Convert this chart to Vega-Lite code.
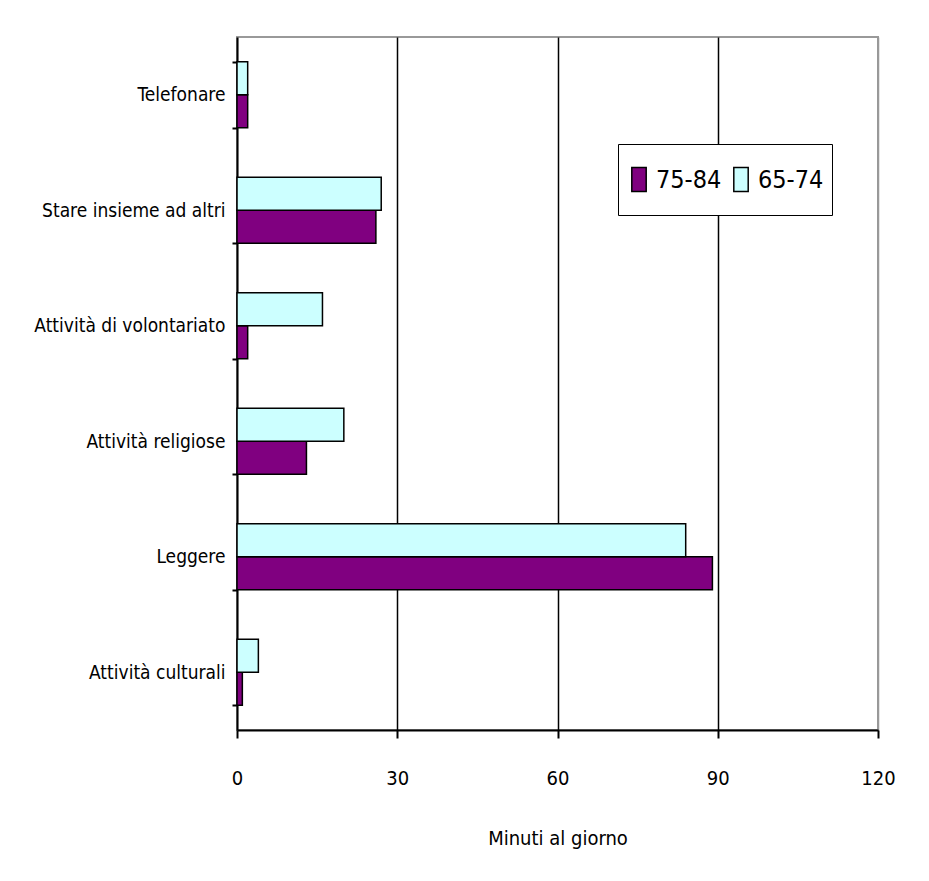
{
  "$schema": "https://vega.github.io/schema/vega-lite/v6.json",
  "width": 641,
  "height": 693,
  "autosize": {"type": "none"},
  "padding": {"left": 237, "top": 37, "right": 51, "bottom": 151},
  "background": "white",
  "config": {
    "font": "DejaVu Sans Condensed, sans-serif",
    "view": {"stroke": "#999999", "strokeWidth": 2}
  },
  "data": {
    "values": [
      {"attivita": "Telefonare", "eta": "75-84", "minuti": 2},
      {"attivita": "Telefonare", "eta": "65-74", "minuti": 2},
      {"attivita": "Stare insieme ad altri", "eta": "75-84", "minuti": 26},
      {"attivita": "Stare insieme ad altri", "eta": "65-74", "minuti": 27},
      {"attivita": "Attività di volontariato", "eta": "75-84", "minuti": 2},
      {"attivita": "Attività di volontariato", "eta": "65-74", "minuti": 16},
      {"attivita": "Attività religiose", "eta": "75-84", "minuti": 13},
      {"attivita": "Attività religiose", "eta": "65-74", "minuti": 20},
      {"attivita": "Leggere", "eta": "75-84", "minuti": 89},
      {"attivita": "Leggere", "eta": "65-74", "minuti": 84},
      {"attivita": "Attività culturali", "eta": "75-84", "minuti": 1},
      {"attivita": "Attività culturali", "eta": "65-74", "minuti": 4}
    ]
  },
  "mark": {"type": "bar", "stroke": "black", "strokeWidth": 1.5},
  "encoding": {
    "y": {
      "field": "attivita",
      "type": "nominal",
      "sort": ["Telefonare", "Stare insieme ad altri", "Attività di volontariato", "Attività religiose", "Leggere", "Attività culturali"],
      "scale": {"paddingInner": 0.43, "paddingOuter": 0.215},
      "axis": {
        "title": null,
        "domainColor": "black",
        "domainWidth": 2,
        "tickBand": "extent",
        "tickColor": "black",
        "tickWidth": 2,
        "tickSize": 5,
        "labelFontSize": 19,
        "labelColor": "black",
        "labelPadding": 7,
        "labelLimit": 300,
        "grid": false
      }
    },
    "yOffset": {
      "field": "eta",
      "type": "nominal",
      "sort": ["65-74", "75-84"],
      "scale": {"paddingInner": 0}
    },
    "x": {
      "field": "minuti",
      "type": "quantitative",
      "scale": {"domain": [0, 120], "nice": false},
      "axis": {
        "title": "Minuti al giorno",
        "titleFontSize": 20,
        "titleFontWeight": "normal",
        "titleColor": "black",
        "titlePadding": 40,
        "values": [0, 30, 60, 90, 120],
        "grid": true,
        "gridColor": {"condition": {"test": "datum.value === 120 || datum.value === 0", "value": "#999999"}, "value": "black"},
        "gridWidth": 1.5,
        "domainColor": "black",
        "domainWidth": 2,
        "tickColor": "black",
        "tickWidth": 2,
        "tickSize": 8,
        "labelFontSize": 20,
        "labelColor": "black",
        "labelPadding": 30,
        "labelFlush": false
      }
    },
    "color": {
      "field": "eta",
      "type": "nominal",
      "scale": {"domain": ["75-84", "65-74"], "range": ["#800080", "#CCFFFF"]},
      "legend": {
        "title": null,
        "orient": "none",
        "direction": "horizontal",
        "legendX": 381,
        "legendY": 107,
        "strokeColor": "black",
        "fillColor": "white",
        "padding": 8,
        "clipHeight": 55,
        "labelFontSize": 25,
        "labelColor": "black",
        "symbolType": "M-0.6,-1H0.6V1H-0.6Z",
        "symbolSize": 576,
        "symbolStrokeColor": "black",
        "symbolStrokeWidth": 1.5,
        "columnPadding": 6,
        "labelOffset": 4
      }
    }
  }
}
